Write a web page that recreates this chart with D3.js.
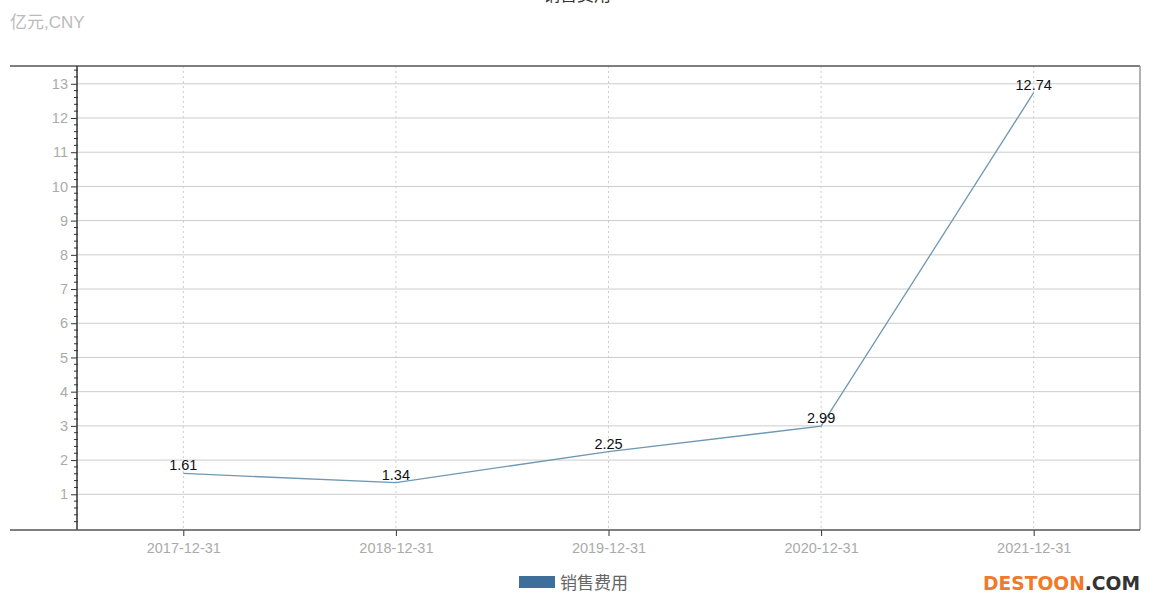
<!DOCTYPE html>
<html><head><meta charset="utf-8">
<script src="https://cdn.jsdelivr.net/npm/d3@7"></script>
<style>body{margin:0;background:#fff;}svg{display:block;font-family:"Helvetica Neue",Arial,"Liberation Sans","Noto Sans CJK SC",sans-serif;}</style>
</head><body>
<svg id="c" width="1154" height="605"></svg>
<script>
const categories = ["2017-12-31","2018-12-31","2019-12-31","2020-12-31","2021-12-31"];
const values = [1.61, 1.34, 2.25, 2.99, 12.74];
const yTicks = [1,2,3,4,5,6,7,8,9,10,11,12,13];
const seriesName = "销售费用";
const unitLabel = "亿元,CNY";
const titleText = "销售费用";

const svg = d3.select("#c");
const L = 77, R = 1140, T = 66, B = 530;
const x = d3.scaleBand().domain(categories).range([L, R]);
const cx = d => x(d) + x.bandwidth()/2;
const y = d3.scaleLinear().domain([0, 13.52]).range([528.5, T]);

// title (clipped at top, as in the reference)
svg.append("text").attr("x", 577).attr("y", 1).attr("text-anchor","middle")
  .attr("font-size", 17).attr("fill", "#333").text(titleText);
svg.append("text").attr("x", 10).attr("y", 28).attr("font-size", 17).attr("fill", "#bbb").text(unitLabel);

// grid
svg.append("g").selectAll("line").data(yTicks).join("line")
  .attr("x1", L).attr("x2", R).attr("y1", d=>y(d)).attr("y2", d=>y(d))
  .attr("stroke", "#ccc").attr("stroke-width", 1);
svg.append("g").selectAll("line").data(categories).join("line")
  .attr("x1", d=>cx(d)).attr("x2", d=>cx(d)).attr("y1", T).attr("y2", B)
  .attr("stroke", "#ccc").attr("stroke-dasharray", "2,3").attr("stroke-width", 1);

// frame
svg.append("line").attr("x1", 10).attr("x2", R).attr("y1", T).attr("y2", T).attr("stroke", "#555").attr("stroke-width", 1.5);
svg.append("line").attr("x1", R).attr("x2", R).attr("y1", T).attr("y2", B).attr("stroke", "#999").attr("stroke-width", 1.5);

// y axis
const yAxis = d3.axisLeft(y).tickValues(yTicks).tickSize(6).tickPadding(3).tickFormat(d3.format("d"));
const ya = svg.append("g").attr("transform", `translate(${L},0)`).call(yAxis);
ya.select(".domain").attr("stroke", "#333").attr("stroke-width", 1.5).attr("d", `M0,${T}V${B}`);
ya.selectAll(".tick line").attr("stroke", "#333");
ya.selectAll(".tick text").attr("fill", "#aaa").attr("font-size", 14.5).style("font-family","inherit");
const minor = d3.range(0.2, 13.5, 0.2).filter(v => Math.abs(v - Math.round(v)) > 0.01);
ya.append("g").selectAll("line").data(minor).join("line")
  .attr("x1", -3).attr("x2", 1).attr("y1", d=>y(d)).attr("y2", d=>y(d)).attr("stroke", "#333");

// x axis
const xAxis = d3.axisBottom(d3.scalePoint().domain(categories).range([cx(categories[0]), cx(categories[4])]))
  .tickSize(6).tickPadding(7);
const xa = svg.append("g").attr("transform", `translate(0,${B})`).call(xAxis);
xa.select(".domain").remove();
xa.selectAll(".tick line").attr("stroke", "#333");
xa.selectAll(".tick text").attr("fill", "#aaa").attr("font-size", 14.5).style("font-family","inherit");
svg.append("line").attr("x1", 10).attr("x2", R).attr("y1", B).attr("y2", B).attr("stroke", "#555").attr("stroke-width", 1.5);

// line
const data = categories.map((c,i)=>({c, v: values[i]}));
svg.append("path").datum(data)
  .attr("d", d3.line().x(d=>cx(d.c)).y(d=>y(d.v)))
  .attr("fill","none").attr("stroke","#6f98b4").attr("stroke-width",1.3);
svg.append("g").selectAll("text").data(data).join("text")
  .attr("x", d=>cx(d.c)).attr("y", d=>y(d.v)-3).attr("text-anchor","middle")
  .attr("font-size", 14.5).attr("fill", "#111").text(d=>d.v.toFixed(2));

// legend
svg.append("rect").attr("x", 519).attr("y", 576).attr("width", 36).attr("height", 12).attr("fill", "#3d6f9a");
svg.append("text").attr("x", 560).attr("y", 589).attr("font-size", 17).attr("fill", "#666").text(seriesName);

// watermark
const wm = svg.append("text").attr("x", 983).attr("y", 590)
  .attr("font-size", 19).attr("font-weight","bold").style("font-family","'DejaVu Sans',sans-serif")
  .attr("textLength", 157).attr("lengthAdjust", "spacingAndGlyphs");
wm.append("tspan").attr("fill","#f07a2a").text("DESTOON");
wm.append("tspan").attr("fill","#333").text(".COM");
</script>
</body></html>
